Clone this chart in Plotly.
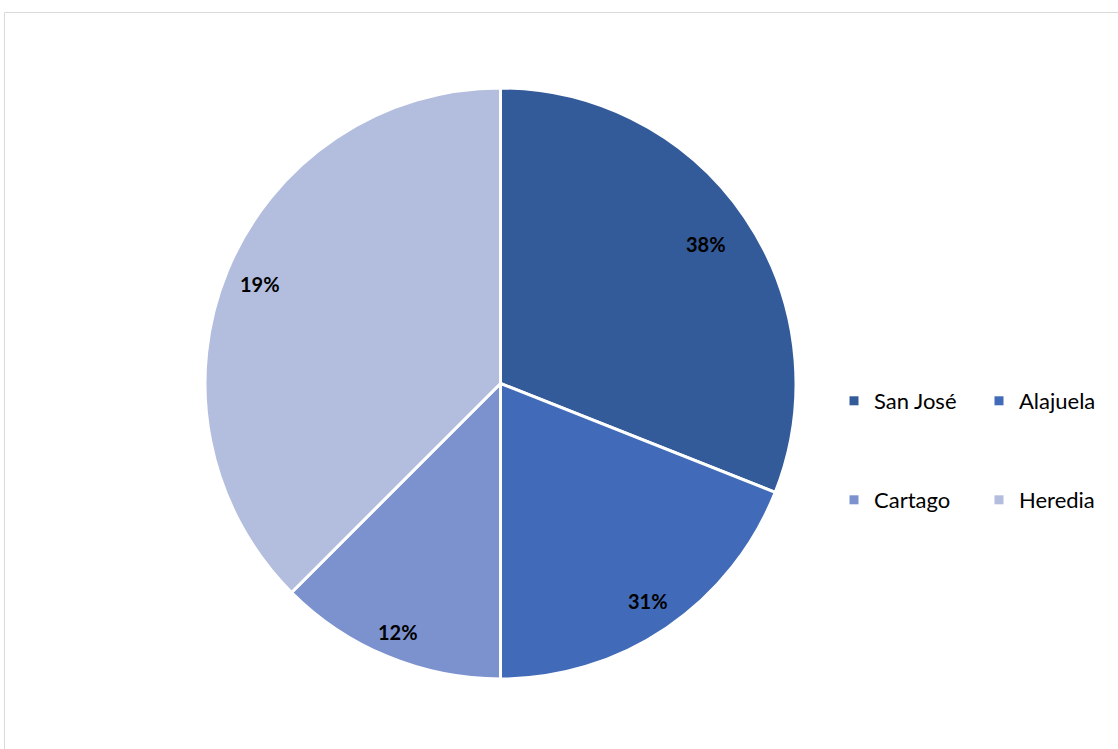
import math
import plotly.graph_objects as go

# Provincias y su participación (tamaño de cada sector)
provincias = ["San José", "Alajuela", "Cartago", "Heredia"]
participacion = [31, 19, 12.5, 37.5]
etiquetas = ["38%", "31%", "12%", "19%"]
colores = ["#335A99", "#416BB8", "#7B92CF", "#B3BDDE"]

W, H = 1118, 749
# Pie geometry in pixels
cx, cy, r = 500.5, 383.5, 295.5
# Radial placement of each data label (fraction of radius)
radio_etiqueta = [0.84, 0.89, 0.91, 0.88]

fig = go.Figure()
fig.add_trace(go.Pie(
    labels=provincias,
    values=participacion,
    sort=False,
    direction="clockwise",
    rotation=0,
    marker=dict(colors=colores, line=dict(color="white", width=3)),
    textinfo="none",
    hoverinfo="label+value",
    showlegend=False,
    domain=dict(x=[(cx - r) / W, (cx + r) / W], y=[1 - (cy + r) / H, 1 - (cy - r) / H]),
))

# Data labels placed at each slice's mid-angle
total = sum(participacion)
acum = 0
for v, t, f in zip(participacion, etiquetas, radio_etiqueta):
    mid = (acum + v / 2) / total * 2 * math.pi
    acum += v
    rr = f * r
    px = cx + rr * math.sin(mid)
    py = cy - rr * math.cos(mid)
    fig.add_annotation(
        x=px / W, y=1 - py / H, xref="paper", yref="paper",
        xanchor="center", yanchor="middle",
        text=f"<b>{t}</b>", showarrow=False,
        font=dict(family="Lato, Open Sans, sans-serif", size=20, color="#000000"),
    )

# Legend entries (two rows, two columns)
for i, (n, c) in enumerate(zip(provincias, colores)):
    fig.add_trace(go.Scatter(
        x=[None], y=[None], mode="markers", name=n,
        marker=dict(symbol="square", size=9, color=c),
        legend="legend" if i < 2 else "legend2",
        hoverinfo="skip",
    ))

leg_common = dict(
    orientation="h", xanchor="left", yanchor="middle",
    entrywidth=100, entrywidthmode="pixels", itemwidth=30,
    font=dict(family="Lato, Open Sans, sans-serif", size=22, color="#000000"),
    bgcolor="rgba(0,0,0,0)", borderwidth=0,
)

fig.update_layout(
    width=W, height=H,
    margin=dict(l=0, r=0, t=0, b=0, autoexpand=False),
    paper_bgcolor="white", plot_bgcolor="white",
    xaxis=dict(visible=False), yaxis=dict(visible=False),
    legend=dict(x=834 / W, y=1 - 401 / H, **leg_common),
    legend2=dict(x=834 / W, y=1 - 500 / H, **leg_common),
    shapes=[dict(
        type="rect", xref="paper", yref="paper",
        x0=4.5 / W, x1=1.02, y0=-0.02, y1=1 - 12.5 / H,
        line=dict(color="#D9D9D9", width=1), fillcolor="rgba(0,0,0,0)", layer="below",
    )],
)

fig.write_html("out.html")
